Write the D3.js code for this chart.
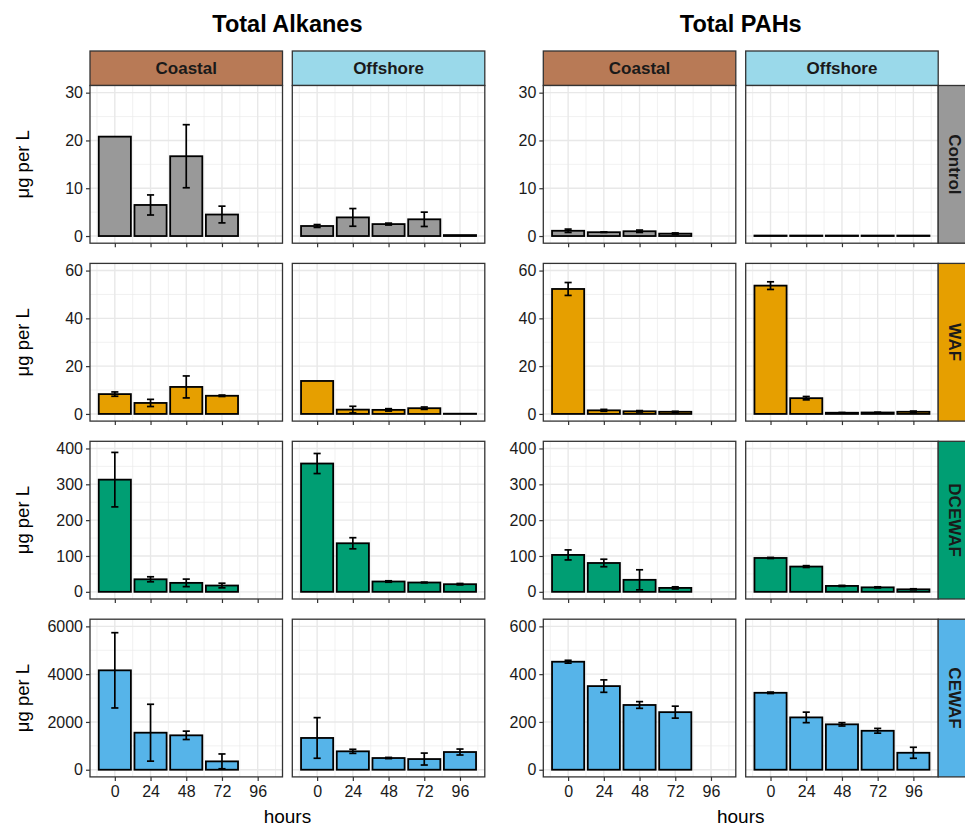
<!DOCTYPE html>
<html><head><meta charset="utf-8">
<script src="https://cdn.jsdelivr.net/npm/d3@7"></script>
<style>
html,body{margin:0;padding:0;background:#fff;}
svg{display:block;font-family:"Liberation Sans",Arial,Helvetica,sans-serif;}
</style></head>
<body>
<svg id="chart" width="965" height="827"></svg>
<script>
// ---------------- data ----------------
const hours = [0, 24, 48, 72, 96];
const sites = ["Coastal", "Offshore"];
const treatments = ["Control", "WAF", "DCEWAF", "CEWAF"];
const compounds = ["Total Alkanes", "Total PAHs"];

// rows = treatments (Control, WAF, DCEWAF, CEWAF); columns = hours
const alkanesCoastalMean = [
  [20.8, 6.5, 16.7, 4.5, null],
  [8.3, 4.6, 11.3, 7.6, null],
  [313, 35, 25, 17.6, null],
  [4160, 1550, 1440, 350, null]
];
const alkanesCoastalErr = [
  [0, 2.1, 6.6, 1.75, null],
  [0.9, 1.5, 4.6, 0.3, null],
  [76, 7, 10.5, 6.5, null],
  [1575, 1190, 175, 310, null]
];
const alkanesOffshoreMean = [
  [2.1, 3.9, 2.5, 3.5, 0.2],
  [13.8, 1.8, 1.7, 2.4, 0.1],
  [358, 135.5, 28.8, 26, 21.3],
  [1330, 770, 490, 447, 741]
];
const alkanesOffshoreErr = [
  [0.3, 1.85, 0.2, 1.5, 0],
  [0, 1.4, 0.5, 0.5, 0],
  [28, 15.5, 2, 1, 2],
  [850, 85, 25, 250, 125]
];
const pahsCoastalMean = [
  [1.1, 0.8, 1.0, 0.5, null],
  [52.3, 1.5, 1.1, 0.9, null],
  [103, 80.5, 33.5, 11, null],
  [452, 350, 271, 241, null]
];
const pahsCoastalErr = [
  [0.35, 0.05, 0.25, 0.15, null],
  [2.7, 0.4, 0.3, 0.2, null],
  [14, 10.5, 28, 3, null],
  [6, 26, 14, 25, null]
];
const pahsOffshoreMean = [
  [0.1, 0.1, 0.1, 0.1, 0.1],
  [53.7, 6.6, 0.5, 0.6, 0.9],
  [94.5, 70.5, 16.5, 12.5, 7],
  [322, 219, 190, 163, 71]
];
const pahsOffshoreErr = [
  [0, 0, 0, 0, 0],
  [1.6, 0.7, 0.1, 0.1, 0.3],
  [1.5, 2.5, 1.5, 1.5, 1.5],
  [3, 22, 7, 10, 23]
];

const alkanesYMax = [30, 60, 400, 6000];
const alkanesYTicks = [[0,10,20,30],[0,20,40,60],[0,100,200,300,400],[0,2000,4000,6000]];
const pahsYMax = [30, 60, 400, 600];
const pahsYTicks = [[0,10,20,30],[0,20,40,60],[0,100,200,300,400],[0,200,400,600]];

const yTitle = "μg per L";
const xTitle = "hours";

// ---------------- styling ----------------
const siteColors = {Coastal: "#B87A56", Offshore: "#9AD9EA"};
const treatColors = {Control: "#999999", WAF: "#E69F00", DCEWAF: "#009E73", CEWAF: "#56B4E9"};

const svg = d3.select("#chart");
const groups = [
  {name: compounds[0], x0: [90, 292.3], means: [alkanesCoastalMean, alkanesOffshoreMean], errs: [alkanesCoastalErr, alkanesOffshoreErr], ymax: alkanesYMax, yticks: alkanesYTicks, yTitle: true, rightStrip: false},
  {name: compounds[1], x0: [543.3, 745.7], means: [pahsCoastalMean, pahsOffshoreMean], errs: [pahsCoastalErr, pahsOffshoreErr], ymax: pahsYMax, yticks: pahsYTicks, yTitle: false, rightStrip: true}
];
const panelW = 192.5;
const panelH = 157.7;
const rowTop0 = 85.5;
const rowStep = 177.9;
const stripTop = 51;
const stripH = 34.5;

const xDomain = [-16.68, 112.68];
const barW = 21.6;  // hours
const capW = 4.8;   // hours

groups.forEach(g => {
  const cx = (g.x0[0] + g.x0[1] + panelW) / 2;
  svg.append("text").attr("x", cx).attr("y", 32).attr("text-anchor", "middle")
    .attr("font-size", 23.5).attr("font-weight", "bold").attr("fill", "#000").text(g.name);

  sites.forEach((site, si) => {
    const x0 = g.x0[si];
    const x = d3.scaleLinear().domain(xDomain).range([x0, x0 + panelW]);
    // top strip
    svg.append("rect").attr("x", x0).attr("y", stripTop).attr("width", panelW).attr("height", stripH)
      .attr("fill", siteColors[site]).attr("stroke", "#333").attr("stroke-width", 1.3);
    svg.append("text").attr("x", x0 + panelW / 2).attr("y", stripTop + stripH / 2 + 6)
      .attr("text-anchor", "middle").attr("font-size", 17).attr("font-weight", "bold").attr("fill", "#1a1a1a").text(site);

    treatments.forEach((tr, ti) => {
      const top = rowTop0 + ti * rowStep;
      const ymax = g.ymax[ti];
      const y = d3.scaleLinear().domain([-0.05 * ymax, 1.05 * ymax]).range([top + panelH, top]);
      const p = svg.append("g");
      p.append("rect").attr("x", x0).attr("y", top).attr("width", panelW).attr("height", panelH).attr("fill", "#fff");
      // minor grid
      const ticks = g.yticks[ti];
      const step = ticks[1] - ticks[0];
      const yMinor = ticks.map(t => t + step / 2).filter(v => v < 1.05 * ymax);
      const xMinor = [-12, 12, 36, 60, 84, 108];
      p.selectAll(".ymn").data(yMinor).join("line")
        .attr("x1", x0).attr("x2", x0 + panelW).attr("y1", d => y(d)).attr("y2", d => y(d))
        .attr("stroke", "#ebebeb").attr("stroke-width", 0.7);
      p.selectAll(".xmn").data(xMinor).join("line")
        .attr("y1", top).attr("y2", top + panelH).attr("x1", d => x(d)).attr("x2", d => x(d))
        .attr("stroke", "#ebebeb").attr("stroke-width", 0.7);
      // major grid
      p.selectAll(".ymj").data(ticks).join("line")
        .attr("x1", x0).attr("x2", x0 + panelW).attr("y1", d => y(d)).attr("y2", d => y(d))
        .attr("stroke", "#e8e8e8").attr("stroke-width", 1.4);
      p.selectAll(".xmj").data(hours).join("line")
        .attr("y1", top).attr("y2", top + panelH).attr("x1", d => x(d)).attr("x2", d => x(d))
        .attr("stroke", "#e8e8e8").attr("stroke-width", 1.4);

      // bars
      const means = g.means[si][ti];
      const errs = g.errs[si][ti];
      const data = hours.map((h, i) => ({h, m: means[i], e: errs[i]})).filter(d => d.m !== null);
      p.selectAll(".bar").data(data).join("rect")
        .attr("x", d => x(d.h - barW / 2)).attr("width", d => x(d.h + barW / 2) - x(d.h - barW / 2))
        .attr("y", d => y(d.m)).attr("height", d => y(0) - y(d.m))
        .attr("fill", treatColors[tr]).attr("stroke", "#000").attr("stroke-width", 1.8);
      // error bars
      const eb = data.filter(d => d.e > 0);
      p.selectAll(".ebv").data(eb).join("line")
        .attr("x1", d => x(d.h)).attr("x2", d => x(d.h)).attr("y1", d => y(d.m - d.e)).attr("y2", d => y(d.m + d.e))
        .attr("stroke", "#000").attr("stroke-width", 1.7);
      p.selectAll(".ebt").data(eb).join("line")
        .attr("x1", d => x(d.h - capW / 2)).attr("x2", d => x(d.h + capW / 2)).attr("y1", d => y(d.m + d.e)).attr("y2", d => y(d.m + d.e))
        .attr("stroke", "#000").attr("stroke-width", 1.7);
      p.selectAll(".ebb").data(eb).join("line")
        .attr("x1", d => x(d.h - capW / 2)).attr("x2", d => x(d.h + capW / 2)).attr("y1", d => y(d.m - d.e)).attr("y2", d => y(d.m - d.e))
        .attr("stroke", "#000").attr("stroke-width", 1.7);

      // panel border
      p.append("rect").attr("x", x0).attr("y", top).attr("width", panelW).attr("height", panelH)
        .attr("fill", "none").attr("stroke", "#333").attr("stroke-width", 1.3);

      // x axis (ticks always, labels only last row)
      const xa = d3.axisBottom(x).tickValues(hours).tickSize(4).tickPadding(5)
        .tickFormat(ti === treatments.length - 1 ? d3.format("d") : () => "");
      const gx = svg.append("g").attr("transform", `translate(0,${top + panelH})`).call(xa);
      gx.select(".domain").remove();
      gx.selectAll(".tick line").attr("stroke", "#333").attr("stroke-width", 1.2);
      gx.selectAll(".tick text").attr("font-size", 16).attr("fill", "#1a1a1a").attr("font-family", "Liberation Sans, Arial, sans-serif");

      // y axis only on coastal panels
      if (si === 0) {
        const ya = d3.axisLeft(y).tickValues(ticks).tickSize(4).tickPadding(3).tickFormat(d3.format("d"));
        const gy = svg.append("g").attr("transform", `translate(${x0},0)`).call(ya);
        gy.select(".domain").remove();
        gy.selectAll(".tick line").attr("stroke", "#333").attr("stroke-width", 1.2);
        gy.selectAll(".tick text").attr("font-size", 16).attr("fill", "#1a1a1a").attr("font-family", "Liberation Sans, Arial, sans-serif");
        if (g.yTitle) {
          svg.append("text").attr("transform", `translate(29,${top + panelH / 2}) rotate(-90)`)
            .attr("text-anchor", "middle").attr("font-size", 18.5).attr("fill", "#000").text(yTitle);
        }
      }
      // right strip
      if (g.rightStrip && si === 1) {
        const sx = x0 + panelW;
        svg.append("rect").attr("x", sx).attr("y", top).attr("width", stripH).attr("height", panelH)
          .attr("fill", treatColors[tr]).attr("stroke", "#333").attr("stroke-width", 1.3);
        svg.append("text").attr("transform", `translate(${sx + stripH / 2 - 6},${top + panelH / 2}) rotate(90)`)
          .attr("text-anchor", "middle").attr("font-size", 17).attr("font-weight", "bold").attr("fill", "#1a1a1a").text(tr);
      }
    });
  });
  svg.append("text").attr("x", cx).attr("y", 823).attr("text-anchor", "middle")
    .attr("font-size", 19).attr("fill", "#000").text(xTitle);
});
</script>
</body></html>
